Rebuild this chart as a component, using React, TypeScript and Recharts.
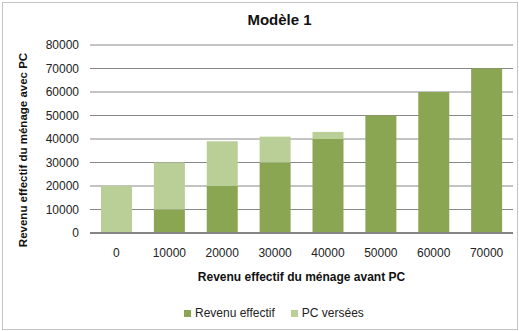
import { BarChart, Bar, XAxis, YAxis, CartesianGrid, Legend } from "recharts";

// Revenu avant PC (catégories), revenu effectif et PC versées
const categories = ["0", "10000", "20000", "30000", "40000", "50000", "60000", "70000"];
const revenuEffectif = [0, 10000, 20000, 30000, 40000, 50000, 60000, 70000];
const pcVersees = [20000, 20000, 19000, 11000, 3000, 0, 0, 0];
const yTicks = [0, 10000, 20000, 30000, 40000, 50000, 60000, 70000, 80000];
const seriesNames = ["Revenu effectif", "PC versées"];

const DARK = "#8BA652";
const LIGHT = "#BACE98";
const FONT = "'Liberation Sans', Arial, sans-serif";

const data = categories.map((name, i) => ({
  name,
  revenu: revenuEffectif[i],
  pc: pcVersees[i],
}));

function LegendContent({ payload }: any) {
  // keep the series order (revenu first), whatever order the payload comes in
  const items = seriesNames.map((n) => (payload || []).find((p: any) => p.value === n)).filter(Boolean);
  return (
    <div style={{ display: "flex", alignItems: "center", fontFamily: FONT, fontSize: 12, color: "#222" }}>
      {items.map((entry: any, i: number) => (
        <div key={i} style={{ display: "flex", alignItems: "center", marginRight: 16 }}>
          <span style={{ width: 7, height: 7, background: entry.color, marginRight: 4, display: "inline-block" }} />
          <span>{entry.value}</span>
        </div>
      ))}
    </div>
  );
}

export default function App() {
  return (
    <div style={{ position: "absolute", left: 0, top: 0, width: 519, height: 331, background: "#fff" }}>
      <div
        style={{
          position: "absolute",
          left: 2,
          top: 2,
          width: 514,
          height: 326,
          border: "1px solid #c4c4c4",
        }}
      />
      <div
        style={{
          position: "absolute",
          left: 0,
          top: 11,
          width: 559,
          textAlign: "center",
          fontFamily: FONT,
          fontWeight: "bold",
          fontSize: 15,
          color: "#111",
        }}
      >
        Modèle 1
      </div>
      <BarChart
        width={519}
        height={331}
        data={data}
        margin={{ top: 45, right: 6, bottom: 48, left: 0 }}
        barSize={31}
        style={{ position: "absolute", left: 0, top: 0 }}
      >
        <CartesianGrid vertical={false} stroke="#888" strokeWidth={1} />
        <XAxis
          dataKey="name"
          height={50}
          tickLine={false}
          tickSize={0}
          tickMargin={15}
          axisLine={{ stroke: "#868686", strokeWidth: 2 }}
          tick={{ fill: "#222", fontSize: 12, fontFamily: FONT }}
          interval={0}
          label={{
            content: () => (
              <text
                x={301.5}
                y={281}
                textAnchor="middle"
                fontFamily={FONT}
                fontWeight="bold"
                fontSize={12}
                fill="#111"
              >
                Revenu effectif du ménage avant PC
              </text>
            ),
          }}
        />
        <YAxis
          width={90}
          domain={[0, 80000]}
          ticks={yTicks}
          interval={0}
          axisLine={false}
          tickLine={false}
          tickSize={0}
          tickMargin={11}
          tick={{ fill: "#222", fontSize: 12, fontFamily: FONT }}
          label={{
            content: () => (
              <text
                x={27}
                y={150}
                transform="rotate(-90, 27, 150)"
                textAnchor="middle"
                fontFamily={FONT}
                fontWeight="bold"
                fontSize={11.5}
                fill="#111"
              >
                Revenu effectif du ménage avec PC
              </text>
            ),
          }}
        />
        <Legend
          layout="horizontal"
          verticalAlign="middle"
          align="center"
          content={<LegendContent />}
          wrapperStyle={{ left: 184, top: 306, width: 220, height: 16 }}
        />
        <Bar dataKey="revenu" name="Revenu effectif" stackId="a" fill={DARK} isAnimationActive={false} />
        <Bar dataKey="pc" name="PC versées" stackId="a" fill={LIGHT} isAnimationActive={false} />
      </BarChart>
    </div>
  );
}
